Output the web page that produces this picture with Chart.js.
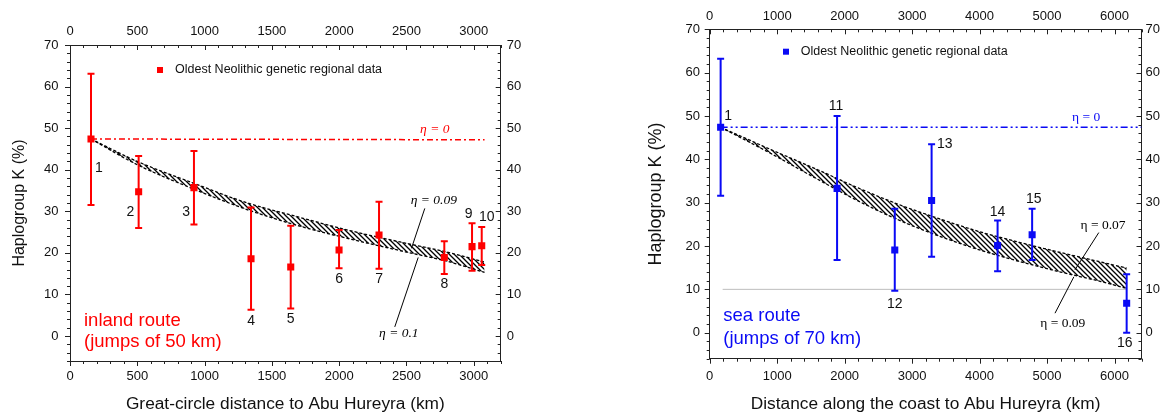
<!DOCTYPE html>
<html>
<head>
<meta charset="utf-8">
<script src="https://cdn.jsdelivr.net/npm/chart.js@4.4.0/dist/chart.umd.min.js"></script>
<style>
html, body { margin: 0; padding: 0; background: #fff; }
#wrap { position: relative; width: 1165px; height: 417px; overflow: hidden; }
#inland { position: absolute; left: 0; top: 0; }
#sea { position: absolute; left: 582px; top: 0; }
</style>
</head>
<body>
<div id="wrap">
  <canvas id="inland" width="582" height="417"></canvas>
  <canvas id="sea" width="583" height="417"></canvas>
</div>
<script>
// ---- inland route (great-circle distance, jumps of 50 km) ----
var inlandDist = [156, 510, 921, 1345, 1640, 1999, 2296, 2781, 2987, 3059];
var inlandK    = [47.4, 34.7, 35.7, 18.6, 16.6, 20.7, 24.3, 18.9, 21.5, 21.7];
var inlandLow  = [31.5, 26.0, 26.8, 6.3, 6.6, 16.3, 16.2, 14.9, 15.7, 17.1];
var inlandHigh = [63.1, 43.3, 44.5, 30.9, 26.5, 25.5, 32.3, 22.8, 27.1, 26.2];
var inlandIds  = ['1', '2', '3', '4', '5', '6', '7', '8', '9', '10'];
var inlandIdX  = [215, 448, 862, 1345, 1640, 1999, 2296, 2781, 2962, 3096];
var inlandIdY  = [40.5, 29.9, 29.9, 3.6, 4.1, 13.8, 13.8, 12.5, 29.3, 28.5];

var inlandBandX  = [156, 500, 900, 1300, 1700, 2100, 2500, 2800, 3080];
var inlandEta009 = [47.4, 42.0, 37.0, 32.2, 28.6, 25.2, 22.3, 20.2, 17.8];
var inlandEta01  = [47.4, 41.2, 35.6, 30.6, 26.5, 23.2, 20.2, 18.0, 15.3];
var inlandEta0X  = [156, 3080];
var inlandEta0   = [47.4, 47.2];
var inlandXTicks = [0, 500, 1000, 1500, 2000, 2500, 3000];

// ---- sea route (distance along the coast, jumps of 70 km) ----
var seaDist = [162, 1888, 2743, 3289, 4267, 4779, 6180];
var seaK    = [47.4, 33.3, 19.1, 30.5, 20.1, 22.6, 6.8];
var seaLow  = [31.6, 16.8, 9.7, 17.5, 14.2, 16.8, 0.0];
var seaHigh = [63.2, 50.0, 28.6, 43.5, 25.9, 28.6, 13.5];
var seaIds  = ['1', '11', '12', '13', '14', '15', '16'];
var seaIdX  = [275, 1873, 2743, 3485, 4267, 4803, 6151];
var seaIdY  = [50.0, 52.3, 6.6, 43.5, 27.8, 30.8, -2.3];

var seaBandX  = [162, 900, 1600, 2200, 2800, 3400, 4000, 4600, 5200, 5800, 6180];
var seaEta007 = [47.4, 42.3, 37.6, 33.4, 29.6, 26.3, 23.3, 20.8, 18.5, 16.3, 14.9];
var seaEta009 = [47.4, 41.4, 35.4, 30.4, 26.0, 22.3, 19.1, 16.4, 14.0, 11.8, 10.2];
var seaEta0X  = [162, 6400];
var seaEta0   = [47.4, 47.4];
var seaRefX   = [192, 6180];
var seaRef    = [10, 10];
var seaXTicks = [0, 1000, 2000, 3000, 4000, 5000, 6000];

var kTicks = [0, 10, 20, 30, 40, 50, 60, 70];

var SANS = '"Liberation Sans", Arial, sans-serif';
var SERIF = '"Liberation Serif", "Times New Roman", serif';

function pts(xs, ys) {
  return xs.map(function (v, i) { return { x: v, y: ys[i] }; });
}

function hatch(canvas) {
  var c = document.createElement('canvas');
  c.width = 5; c.height = 5;
  var g = c.getContext('2d');
  g.strokeStyle = '#000';
  g.lineWidth = 1.3;
  g.beginPath();
  g.moveTo(0, 0); g.lineTo(5, 5);
  g.moveTo(-1, 4); g.lineTo(1, 6);
  g.moveTo(4, -1); g.lineTo(6, 1);
  g.stroke();
  return canvas.getContext('2d').createPattern(c, 'repeat');
}

function decor(o) {
  return {
    id: 'decor',
    beforeDatasetDraw: function (chart, args) {
      if (args.index !== 0) return;
      var ctx = chart.ctx, x = chart.scales.x, y = chart.scales.y;
      ctx.save();
      ctx.strokeStyle = o.color;
      ctx.lineWidth = 2;
      o.dist.forEach(function (d, i) {
        var px = x.getPixelForValue(d);
        var lo = y.getPixelForValue(o.low[i]);
        var hi = y.getPixelForValue(o.high[i]);
        ctx.beginPath();
        ctx.moveTo(px, lo); ctx.lineTo(px, hi);
        ctx.moveTo(px - 3.5, lo); ctx.lineTo(px + 3.5, lo);
        ctx.moveTo(px - 3.5, hi); ctx.lineTo(px + 3.5, hi);
        ctx.stroke();
      });
      ctx.restore();
    },
    afterDraw: function (chart) {
      var ctx = chart.ctx, a = chart.chartArea, x = chart.scales.x, y = chart.scales.y;
      ctx.save();

      // minor / major ticks on all four sides
      ctx.strokeStyle = '#222';
      ctx.lineWidth = 1;
      ctx.beginPath();
      for (var v = 0; v <= o.xMax; v += o.xMinor) {
        var px = Math.round(x.getPixelForValue(v)) + 0.5;
        var len = (v % (o.xMinor * 5) === 0) ? 5 : 3;
        ctx.moveTo(px, a.bottom); ctx.lineTo(px, a.bottom + len);
        ctx.moveTo(px, a.top); ctx.lineTo(px, a.top + len);
      }
      for (var k = -6; k <= 70; k += 2) {
        var py = Math.round(y.getPixelForValue(k)) + 0.5;
        var l2 = (k % 10 === 0) ? 5 : 3;
        ctx.moveTo(a.left, py); ctx.lineTo(a.left - l2, py);
        ctx.moveTo(a.right, py); ctx.lineTo(a.right - l2, py);
      }
      ctx.stroke();

      // leader lines
      ctx.strokeStyle = '#000';
      ctx.lineWidth = 1;
      o.leaders.forEach(function (s) {
        ctx.beginPath();
        ctx.moveTo(x.getPixelForValue(s[0]), y.getPixelForValue(s[1]));
        ctx.lineTo(x.getPixelForValue(s[2]), y.getPixelForValue(s[3]));
        ctx.stroke();
      });

      // eta annotations
      ctx.textAlign = 'center';
      ctx.textBaseline = 'middle';
      o.notes.forEach(function (n) {
        ctx.font = n.font;
        ctx.fillStyle = n.color;
        ctx.fillText(n.text, x.getPixelForValue(n.x), y.getPixelForValue(n.y));
      });

      // point numbers
      ctx.font = '14px ' + SANS;
      ctx.fillStyle = '#111';
      o.ids.forEach(function (t, i) {
        ctx.fillText(t, x.getPixelForValue(o.idX[i]), y.getPixelForValue(o.idY[i]));
      });

      // legend
      ctx.fillStyle = o.color;
      ctx.fillRect(a.left + o.legend[0] - 3, a.top + o.legend[1] - 3, 6, 6);
      ctx.fillStyle = '#111';
      ctx.textAlign = 'left';
      ctx.font = '12.5px ' + SANS;
      ctx.fillText('Oldest Neolithic genetic regional data', a.left + o.legend[2], a.top + o.legend[1]);

      // route caption
      ctx.fillStyle = o.color;
      ctx.font = '18.5px ' + SANS;
      ctx.textBaseline = 'alphabetic';
      ctx.fillText(o.route[0], a.left + o.routePos[0], a.bottom - o.routePos[1]);
      ctx.fillText(o.route[1], a.left + o.routePos[0], a.bottom - o.routePos[2]);
      ctx.restore();
    }
  };
}

function axis(pos, o, extra) {
  var horiz = pos === 'top' || pos === 'bottom';
  var ax = {
    type: 'linear',
    position: pos,
    min: horiz ? 0 : -6,
    max: horiz ? o.xMax : 70,
    afterBuildTicks: function (s) {
      s.ticks = (horiz ? o.xTicks : kTicks).map(function (v) { return { value: v }; });
    },
    afterFit: function (s) {
      if (horiz) s.height = o.box[pos]; else s.width = o.box[pos];
    },
    grid: { display: false, drawTicks: false },
    border: { display: true, color: '#222', width: 1 },
    ticks: {
      autoSkip: false, maxRotation: 0,
      padding: o.pad[pos],
      color: '#111',
      font: { size: 13, family: SANS },
      callback: function (v) { return String(v); }
    }
  };
  return Object.assign(ax, extra || {});
}

function makeChart(id, o) {
  var canvas = document.getElementById(id);
  var datasets = [
    { data: pts(o.dist, o.k), pointStyle: 'rect', pointRadius: 5, pointBackgroundColor: o.color,
      pointBorderWidth: 0, showLine: false },
    { data: pts(o.eta0X, o.eta0), showLine: true, borderColor: o.color, borderWidth: 1.5,
      borderDash: o.eta0Dash, pointRadius: 0 }
  ];
  if (o.refX) {
    datasets.push({ data: pts(o.refX, o.ref), showLine: true, borderColor: '#bdbdbd',
      borderWidth: 1, pointRadius: 0 });
  }
  datasets.push({ data: pts(o.bandX, o.bandUp), showLine: true, borderColor: '#000', borderWidth: 1.3,
    borderDash: [3, 2], pointRadius: 0, tension: 0.4, cubicInterpolationMode: 'monotone',
    fill: '+1', backgroundColor: hatch(canvas) });
  datasets.push({ data: pts(o.bandX, o.bandLow), showLine: true, borderColor: '#000', borderWidth: 1.3,
    borderDash: [3, 2], pointRadius: 0, tension: 0.4, cubicInterpolationMode: 'monotone', fill: false });

  return new Chart(canvas, {
    type: 'scatter',
    data: { datasets: datasets },
    options: {
      responsive: false,
      animation: false,
      events: [],
      layout: { padding: 0 },
      plugins: { legend: { display: false }, tooltip: { enabled: false } },
      scales: {
        x: axis('bottom', o, {
          title: { display: true, text: o.xTitle, color: '#111',
            font: { size: 17.3, family: SANS, lineHeight: 1 }, padding: { top: 0, bottom: 4.5 } }
        }),
        x2: axis('top', o),
        y: axis('left', o, {
          title: { display: true, text: 'Haplogroup K (%)', color: '#111',
            font: { size: o.yTitleSize, family: SANS, lineHeight: 1 }, padding: { top: o.yTitlePad, bottom: 0 } }
        }),
        y2: axis('right', o)
      }
    },
    plugins: [decor(o)]
  });
}

makeChart('inland', {
  color: '#ff0000',
  dist: inlandDist, k: inlandK, low: inlandLow, high: inlandHigh,
  ids: inlandIds, idX: inlandIdX, idY: inlandIdY,
  bandX: inlandBandX, bandUp: inlandEta009, bandLow: inlandEta01,
  eta0X: inlandEta0X, eta0: inlandEta0, eta0Dash: [6, 3, 2, 3],
  xTicks: inlandXTicks, xMax: 3200, xMinor: 100,
  xTitle: 'Great-circle distance to Abu Hureyra (km)',
  yTitleSize: 16, yTitlePad: 12,
  box: { left: 70, right: 81.3, top: 45, bottom: 56 },
  pad: { left: 11.5, right: 6, top: 6.2, bottom: 7.2 },
  legend: [90, 25, 105],
  route: ['inland route', '(jumps of 50 km)'],
  routePos: [14, 35.3, 14.3],
  notes: [
    { text: 'η = 0', x: 2710, y: 49.7, color: '#ff0000', font: 'italic 13.5px ' + SERIF },
    { text: 'η = 0.09', x: 2703, y: 32.7, color: '#000', font: 'italic 13.5px ' + SERIF },
    { text: 'η = 0.1', x: 2443, y: 0.65, color: '#000', font: 'italic 13.5px ' + SERIF }
  ],
  leaders: [[2636, 30.7, 2537, 21.1], [2413, 2.2, 2587, 18.9]]
});

makeChart('sea', {
  color: '#0a0af5',
  dist: seaDist, k: seaK, low: seaLow, high: seaHigh,
  ids: seaIds, idX: seaIdX, idY: seaIdY,
  bandX: seaBandX, bandUp: seaEta007, bandLow: seaEta009,
  eta0X: seaEta0X, eta0: seaEta0, eta0Dash: [7, 3, 2, 3, 2, 3],
  refX: seaRefX, ref: seaRef,
  xTicks: seaXTicks, xMax: 6400, xMinor: 200,
  xTitle: 'Distance along the coast to Abu Hureyra (km)',
  yTitleSize: 18, yTitlePad: 64.8,
  box: { left: 127.7, right: 23.5, top: 29.3, bottom: 58.3 },
  pad: { left: 9.7, right: 4, top: 5, bottom: 9.7 },
  legend: [76.3, 22.4, 91],
  route: ['sea route', '(jumps of 70 km)'],
  routePos: [13.6, 37.7, 14.7],
  notes: [
    { text: 'η = 0', x: 5580, y: 49.7, color: '#0a0af5', font: '13.5px ' + SERIF },
    { text: 'η = 0.07', x: 5830, y: 24.85, color: '#000', font: '13.5px ' + SERIF },
    { text: 'η = 0.09', x: 5233, y: 2.2, color: '#000', font: '13.5px ' + SERIF }
  ],
  leaders: [[5767, 23.1, 5413, 14.5], [5398, 12.9, 5118, 4.5]]
});
</script>
</body>
</html>
